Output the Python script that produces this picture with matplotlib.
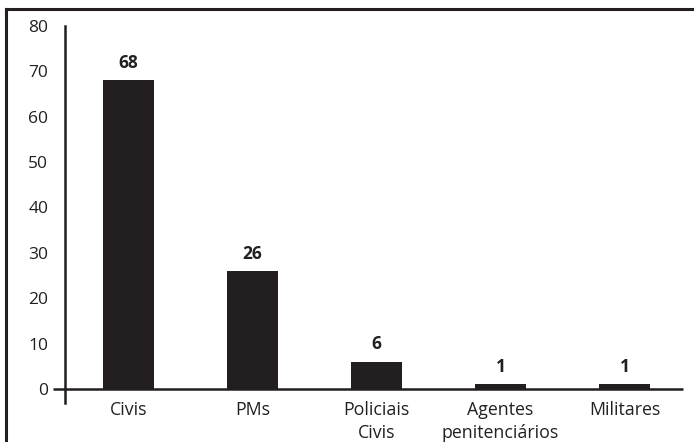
import matplotlib
matplotlib.use("Agg")
import matplotlib.pyplot as plt
from matplotlib.lines import Line2D

categories = ["Civis", "PMs", "Policiais\nCivis", "Agentes\npenitenciários", "Militares"]
values = [68, 26, 6, 1, 1]
y_ticks = [0, 10, 20, 30, 40, 50, 60, 70, 80]

INK = "#231f20"
plt.rcParams["font.family"] = ["Open Sans", "DejaVu Sans"]

W, H = 694, 442
fig = plt.figure(figsize=(W / 100, H / 100), dpi=100)
fig.patch.set_facecolor("white")

ax = fig.add_axes([65 / W, (H - 403) / H, (683 - 65) / W, (403 - 26) / H])
# x tick labels sit just under the zero line
ax.spines["bottom"].set_position(("data", 0))

x = list(range(len(categories)))
ax.bar(x, values, width=0.41, color=INK, zorder=2)

for xi, v in zip(x, values):
    ax.annotate(str(v), (xi, v), xytext=(0, 6), textcoords="offset points",
                ha="center", va="bottom", fontsize=12.5, fontweight="bold", color=INK)

ax.set_xlim(-0.51, 4.47)
ax.set_ylim(-3.1, 80)

ax.set_xticks(x)
ax.set_xticklabels(categories, fontsize=12.8, color=INK, linespacing=1.35)
ax.set_yticks(y_ticks)
ax.set_yticklabels([str(t) for t in y_ticks], fontsize=12.5, color=INK)
ax.tick_params(axis="both", length=0)
ax.tick_params(axis="y", pad=12)
ax.tick_params(axis="x", pad=8.5)

for side in ("top", "right", "bottom"):
    ax.spines[side].set_visible(False)
ax.spines["left"].set_linewidth(1.8)
ax.spines["left"].set_color(INK)

# baseline at zero, extended past the y-axis as the zero tick
ax.plot([-12 / 618, 1], [0, 0], transform=ax.get_yaxis_transform(),
        color=INK, lw=1.8, clip_on=False, zorder=3, solid_capstyle="butt")

# outer frame on the left and top
fig.add_artist(Line2D([6 / W, 6 / W], [0, 1 - 9 / H], transform=fig.transFigure,
                      color=INK, lw=2.2, solid_capstyle="projecting"))
fig.add_artist(Line2D([6 / W, 1], [1 - 9 / H, 1 - 9 / H], transform=fig.transFigure,
                      color=INK, lw=2.2, solid_capstyle="projecting"))

fig.savefig("out.png", dpi=100)
